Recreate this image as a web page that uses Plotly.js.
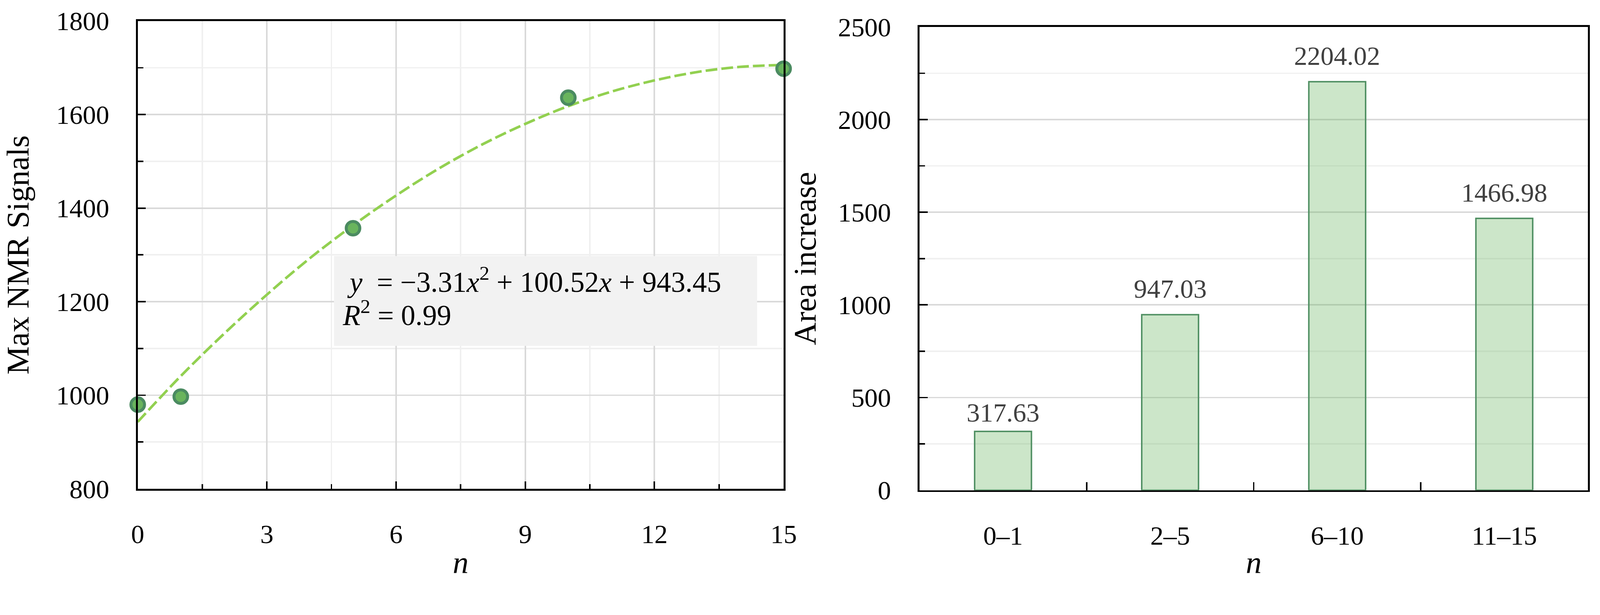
<!DOCTYPE html>
<html>
<head>
<meta charset="utf-8">
<script src="https://cdn.plot.ly/plotly-3.0.1.min.js"></script>
<style>
  html, body { margin: 0; padding: 0; background: #fff; overflow: hidden; }
  #chart { width: 4345px; height: 1574px; transform-origin: 0 0; }
</style>
</head>
<body>
<div id="chart"></div>
<script>
const nPoints = [0, 1, 5, 10, 15];
const maxSignal = [980, 997, 1357, 1636, 1698];
const nFit = [0, 1, 2, 3, 4, 5, 6, 7, 8, 9, 10, 11, 12, 13, 14, 15];
const signalFit = [943, 1041, 1131, 1215, 1293, 1363, 1427, 1485, 1536, 1580, 1618, 1649, 1673, 1691, 1702, 1706];
const fitText = '\u00A0<i>y</i>\u00A0\u00A0= \u22123.31<i>x</i><sup>2</sup> + 100.52<i>x</i> + 943.45';
const r2Text = '<i>R</i><sup>2</sup> = 0.99';

// right panel: area increase per range of n
const ranges = ['0\u20131', '2\u20135', '6\u201310', '11\u201315'];
const areaIncrease = [317.63, 947.03, 2204.02, 1466.98];

const W = 4345, H = 1574;
const serif = 'Liberation Serif, Times New Roman, serif';

// the window may be smaller than the design size: scale the whole figure to fit
const fit = Math.min(window.innerWidth / W, window.innerHeight / H);
if (fit > 0 && fit < 1) document.getElementById('chart').style.transform = 'scale(' + fit + ')';

// panel frames in px
const L = {x0: 374, x1: 2128, y0: 57, y1: 1327};
const R = {x0: 2497, x1: 4312, y0: 73, y1: 1331};

const tickFont = {family: serif, size: 72, color: '#000'};
const titleFont = {family: serif, size: 86, color: '#000'};

const frame = {
  showline: true, linecolor: '#000', linewidth: 5, mirror: true,
  zeroline: false, ticks: 'inside', tickcolor: '#000', tickwidth: 4,
  tickfont: tickFont
};

const traces = [
  {
    x: nFit, y: signalFit, type: 'scatter', mode: 'lines',
    line: {color: '#92d050', width: 7, dash: '32px,11px', shape: 'spline'},
    xaxis: 'x', yaxis: 'y', hoverinfo: 'skip'
  },
  {
    x: nPoints, y: maxSignal, type: 'scatter', mode: 'markers',
    marker: {size: 37, color: '#69b45d', line: {color: '#4b8b61', width: 8}},
    cliponaxis: false, xaxis: 'x', yaxis: 'y'
  },
  {
    x: ranges, y: areaIncrease, type: 'bar', width: 0.34,
    marker: {color: 'rgba(100,180,90,0.33)', line: {color: '#4f8f62', width: 4}},
    xaxis: 'x2', yaxis: 'y2'
  }
];

const annotations = [
  {
    xref: 'x domain', yref: 'y domain', x: (928 - L.x0) / (L.x1 - L.x0),
    y: (L.y1 - 812) / (L.y1 - L.y0), xanchor: 'left', yanchor: 'bottom',
    text: fitText, showarrow: false, font: {family: serif, size: 78, color: '#000'}
  },
  {
    xref: 'x domain', yref: 'y domain', x: (928 - L.x0) / (L.x1 - L.x0),
    y: (L.y1 - 902) / (L.y1 - L.y0), xanchor: 'left', yanchor: 'bottom',
    text: r2Text, showarrow: false, font: {family: serif, size: 78, color: '#000'}
  }
];
// the lowest bar's label sits closer to its bar in the original
const labelShift = [8, 28, 28, 28];
ranges.forEach(function(r, i) {
  annotations.push({
    xref: 'x2', yref: 'y2', x: r, y: areaIncrease[i],
    text: areaIncrease[i].toFixed(2), showarrow: false,
    yanchor: 'bottom', yshift: labelShift[i],
    font: {family: serif, size: 72, color: '#404040'}
  });
});

const layout = {
  width: W, height: H,
  margin: {l: 0, r: 0, t: 0, b: 0},
  paper_bgcolor: '#fff', plot_bgcolor: '#fff',
  showlegend: false,
  font: {family: serif},
  xaxis: Object.assign({}, frame, {
    domain: [L.x0 / W, L.x1 / W], anchor: 'y',
    range: [0, 15], tick0: 0, dtick: 3, ticklen: 20,
    showgrid: true, gridcolor: '#d9d9d9', gridwidth: 4,
    minor: {dtick: 1.5, ticks: 'inside', ticklen: 13, tickwidth: 4, tickcolor: '#000',
            showgrid: true, gridcolor: '#f0f0f0', gridwidth: 4},
    ticklabelstandoff: 56,
    title: {text: '<i>n</i>', font: titleFont, standoff: 15}
  }),
  yaxis: Object.assign({}, frame, {
    domain: [1 - L.y1 / H, 1 - L.y0 / H], anchor: 'x',
    range: [800, 1800], tick0: 800, dtick: 200, ticklen: 22,
    showgrid: true, gridcolor: '#d9d9d9', gridwidth: 4,
    minor: {dtick: 100, ticks: 'inside', ticklen: 15, tickwidth: 4, tickcolor: '#000',
            showgrid: true, gridcolor: '#f0f0f0', gridwidth: 4},
    ticklabelstandoff: 58,
    title: {text: 'Max NMR Signals', font: titleFont, standoff: 62}
  }),
  xaxis2: Object.assign({}, frame, {
    domain: [R.x0 / W, R.x1 / W], anchor: 'y2',
    type: 'category', range: [-0.5, 3.5], tickson: 'boundaries', ticklen: 22,
    showgrid: false,
    ticklabelstandoff: 56,
    title: {text: '<i>n</i>', font: titleFont, standoff: 15}
  }),
  yaxis2: Object.assign({}, frame, {
    domain: [1 - R.y1 / H, 1 - R.y0 / H], anchor: 'x2',
    range: [0, 2500], tick0: 0, dtick: 500, ticklen: 22,
    showgrid: true, gridcolor: '#d9d9d9', gridwidth: 4,
    minor: {dtick: 250, ticks: 'inside', ticklen: 15, tickwidth: 4, tickcolor: '#000',
            showgrid: true, gridcolor: '#f0f0f0', gridwidth: 4},
    ticklabelstandoff: 58,
    title: {text: 'Area increase', font: titleFont, standoff: 33}
  }),
  shapes: [
    {
      type: 'rect', xref: 'x domain', yref: 'y domain',
      x0: (907 - L.x0) / (L.x1 - L.x0), x1: (2056 - L.x0) / (L.x1 - L.x0),
      y0: (L.y1 - 939) / (L.y1 - L.y0), y1: (L.y1 - 695) / (L.y1 - L.y0),
      fillcolor: '#f2f2f2', line: {width: 0}, layer: 'above'
    }
  ],
  annotations: annotations
};

Plotly.newPlot('chart', traces, layout, {displayModeBar: false, responsive: false});
</script>
</body>
</html>
